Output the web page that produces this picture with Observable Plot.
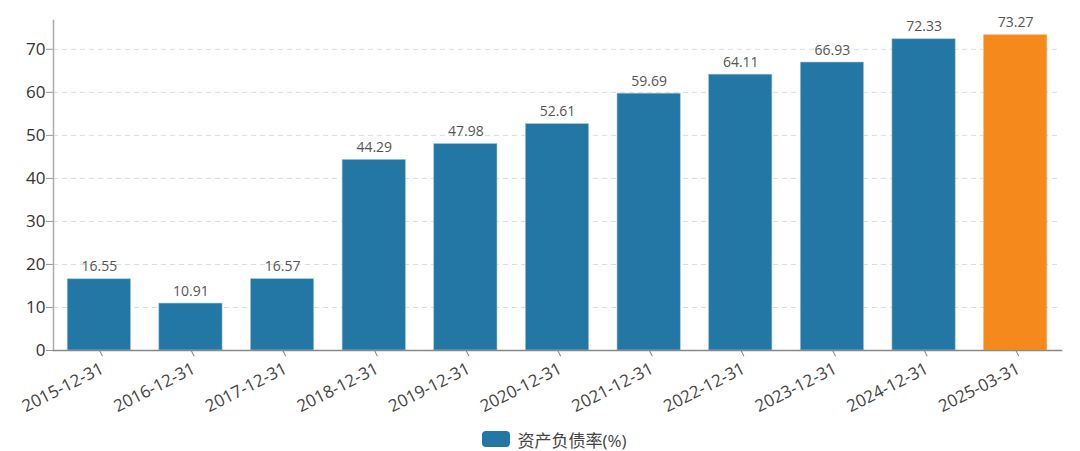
<!DOCTYPE html>
<html>
<head>
<meta charset="utf-8">
<script src="https://cdn.jsdelivr.net/npm/d3@7"></script>
<script src="https://cdn.jsdelivr.net/npm/@observablehq/plot@0.6"></script>
<style>
  html, body { margin: 0; padding: 0; background: #fff; }
  body { width: 1080px; height: 451px; overflow: hidden; font-family: "Open Sans", "Noto Sans CJK SC", sans-serif; }
  #legend { display: flex; justify-content: center; align-items: center; height: 42px; font-size: 17px; color: #444; padding-left: 29px; }
  #legend .sw { width: 28px; height: 16px; border-radius: 4px; background: #2277a4; margin-right: 7px; }
</style>
</head>
<body>
<div id="chart"></div>
<div id="legend"><span class="sw"></span><span>资产负债率(%)</span></div>
<script>
const dates = ["2015-12-31","2016-12-31","2017-12-31","2018-12-31","2019-12-31","2020-12-31","2021-12-31","2022-12-31","2023-12-31","2024-12-31","2025-03-31"];
const ratios = [16.55, 10.91, 16.57, 44.29, 47.98, 52.61, 59.69, 64.11, 66.93, 72.33, 73.27];
const highlight = ["2025-03-31"];
const yTicks = [0, 10, 20, 30, 40, 50, 60, 70];
const seriesName = "资产负债率(%)";

const data = dates.map((d, i) => ({date: d, value: ratios[i], hl: highlight.includes(d)}));

const chart = Plot.plot({
  width: 1080,
  height: 418,
  marginLeft: 53,
  marginRight: 19,
  marginTop: 20,
  marginBottom: 68,
  style: {fontFamily: "'Open Sans', 'Noto Sans CJK SC', sans-serif", background: "#fff"},
  x: {domain: dates, paddingInner: 0.31, paddingOuter: 0.155, round: false, label: null},
  y: {domain: [0, 76.7], label: null},
  marks: [
    Plot.gridY(yTicks.filter(t => t > 0), {stroke: "#dcdcdc", strokeOpacity: 1, strokeDasharray: "5,4"}),
    Plot.barY(data, {x: "date", y: "value", fill: d => d.hl ? "#f5891b" : "#2277a4", stroke: d => d.hl ? "#f8b36a" : "#9cc2d8", strokeWidth: 0.6}),
    Plot.text(data, {x: "date", y: "value", text: d => d.value.toFixed(2), dy: -8, lineAnchor: "bottom", fontSize: 14, fill: "#555"}),
    Plot.axisY(yTicks, {tickSize: 7, tickPadding: 1, fontSize: 17, color: "#333", stroke: "#999", label: null}),
    Plot.axisX({tickSize: 7, tickPadding: 4, rotate: -27, textAnchor: "end", fontSize: 17, color: "#444", stroke: "#888", label: null}),
    Plot.frame({anchor: "left", stroke: "#aaa", strokeWidth: 1.5}),
    Plot.frame({anchor: "bottom", stroke: "#888", strokeWidth: 1.5})
  ]
});
document.getElementById("chart").appendChild(chart);
</script>
</body>
</html>
